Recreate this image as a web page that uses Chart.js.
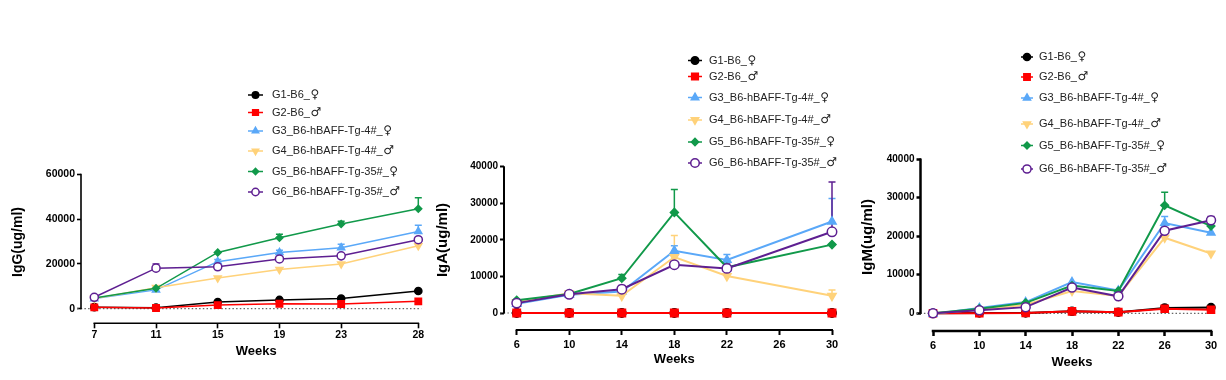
<!DOCTYPE html>
<html><head><meta charset="utf-8">
<script src="https://cdn.jsdelivr.net/npm/chart.js@4.4.1/dist/chart.umd.min.js"></script>
<style>
html,body{margin:0;padding:0;background:#fff;width:1226px;height:380px;overflow:hidden}
.p{position:absolute;top:0;height:380px}
canvas{display:block}
</style></head><body>
<div class="p" style="left:0;width:430px"><canvas id="c1" width="430" height="380"></canvas></div>
<div class="p" style="left:430px;width:430px"><canvas id="c2" width="430" height="380"></canvas></div>
<div class="p" style="left:860px;width:366px"><canvas id="c3" width="366" height="380"></canvas></div>
<script>
// ---------- data ----------
const groupLabels = ['G1-B6_♀','G2-B6_♂','G3_B6-hBAFF-Tg-4#_♀','G4_B6-hBAFF-Tg-4#_♂','G5_B6-hBAFF-Tg-35#_♀','G6_B6-hBAFF-Tg-35#_♂'];

// IgG
const iggWeeks = [7, 11, 15, 19, 23, 28];
const iggTicksX = [7, 11, 15, 19, 23, 28];
const iggTicksY = [0, 20000, 40000, 60000];
const iggG1 = [700, 450, 3000, 3900, 4500, 7900];
const iggG2 = [600, 300, 1600, 2200, 2100, 3300];
const iggG3 = [4500, 8400, 21000, 25100, 27200, 34500];
const iggG4 = [4600, 9400, 13700, 17500, 20000, 28100];
const iggG5 = [4800, 9100, 25100, 31700, 37800, 44600];
const iggG6 = [5100, 18100, 18700, 22200, 23600, 30800];
const iggErrG3 = [0, 0, 1000, 1000, 1600, 2800];
const iggErrG4 = [0, 0, 0, 0, 0, 800];
const iggErrG5 = [0, 0, 0, 1500, 1200, 4900];
const iggErrG6 = [0, 1800, 0, 0, 0, 0];

// IgA
const igaWeeks = [6, 10, 14, 18, 22, 30];
const igaTicksX = [6, 10, 14, 18, 22, 26, 30];
const igaTicksY = [0, 10000, 20000, 30000, 40000];
const igaG1 = [0, 0, 0, 0, 0, 0];
const igaG2 = [0, 0, 0, 0, 0, 0];
const igaG3 = [2500, 5000, 5900, 17000, 14500, 25000];
const igaG4 = [3000, 5400, 4700, 15300, 10100, 4700];
const igaG5 = [3500, 5200, 9500, 27500, 12500, 18700];
const igaG6 = [2700, 5100, 6500, 13200, 12200, 22200];
const igaErrG3 = [0, 0, 0, 1400, 1500, 6300];
const igaErrG4 = [0, 0, 0, 5900, 0, 1600];
const igaErrG5 = [0, 0, 1000, 6300, 0, 0];
const igaErrG6 = [0, 0, 1000, 0, 1500, 13600];

// IgM
const igmWeeks = [6, 10, 14, 18, 22, 26, 30];
const igmTicksX = [6, 10, 14, 18, 22, 26, 30];
const igmTicksY = [0, 10000, 20000, 30000, 40000];
const igmG1 = [0, 100, 100, 500, 300, 1400, 1500];
const igmG2 = [0, 0, 100, 500, 300, 1200, 900];
const igmG3 = [-150, 1400, 2900, 8100, 5900, 23400, 20900];
const igmG4 = [0, 900, 2200, 5800, 4500, 19600, 15500];
const igmG5 = [0, 1200, 2700, 7200, 5800, 28000, 22600];
const igmG6 = [0, 800, 1600, 6700, 4400, 21400, 24100];
const igmErrG3 = [0, 0, 0, 0, 0, 1700, 0];
const igmErrG5 = [0, 0, 0, 0, 0, 3400, 0];
const igmErrG6 = [0, 0, 0, 0, 0, 0, 1000];

// ---------- styles ----------
const colors = ['#000000', '#ff0000', '#5aa8f8', '#ffd27a', '#11994a', '#5e1f91'];
const pStyles = ['circle', 'rect', 'triangle', 'triangle', 'rectRot', 'circle'];
const pRot = [0, 0, 0, 180, 0, 0];
const pRad = [4, 5, 4.5, 4.5, 3.8, 4.5];
const FONT = "'Liberation Sans', Arial, 'DejaVu Sans', sans-serif";
const SYMFONT = "'DejaVu Sans', sans-serif";

const gpPlugin = {
  id: 'gp',
  beforeDatasetsDraw(chart, args, o) {
    const ctx = chart.ctx, xs = chart.scales.x, ys = chart.scales.y;
    const y0 = ys.getPixelForValue(0);
    ctx.save();
    ctx.strokeStyle = '#666'; ctx.lineWidth = 1.2; ctx.setLineDash([1.5, 2.2]);
    ctx.beginPath(); ctx.moveTo(chart.chartArea.left - 4, y0);
    ctx.lineTo(xs.getPixelForValue(o.xLast) + 3, y0); ctx.stroke();
    ctx.setLineDash([]);
    chart.data.datasets.forEach((ds, i) => {
      const err = o.errors[i]; if (!err) return;
      ds.data.forEach((p, j) => {
        if (!err[j]) return;
        const px = xs.getPixelForValue(p.x), py = ys.getPixelForValue(p.y), pt = ys.getPixelForValue(p.y + err[j]);
        ctx.strokeStyle = ds.borderColor; ctx.lineWidth = 1.5;
        ctx.beginPath(); ctx.moveTo(px, py); ctx.lineTo(px, pt);
        ctx.moveTo(px - 3.5, pt); ctx.lineTo(px + 3.5, pt); ctx.stroke();
      });
    });
    ctx.restore();
  },
  afterDraw(chart, args, o) {
    const ctx = chart.ctx, xs = chart.scales.x, ys = chart.scales.y, ca = chart.chartArea;
    ctx.save();
    ctx.strokeStyle = '#000'; ctx.lineWidth = o.axisW;
    ctx.beginPath(); ctx.moveTo(ca.left, ys.getPixelForValue(o.yMax) - 0.5); ctx.lineTo(ca.left, ys.getPixelForValue(0) + 0.5); ctx.stroke();
    const xa = xs.getPixelForValue(o.xFirst), xb = xs.getPixelForValue(o.xLast);
    ctx.beginPath(); ctx.moveTo(xa - o.axisW / 2, ca.bottom); ctx.lineTo(xb + o.axisW / 2, ca.bottom); ctx.stroke();
    ctx.fillStyle = '#000'; ctx.textAlign = 'center'; ctx.textBaseline = 'middle';
    ctx.font = 'bold ' + o.weeksSize + 'px ' + FONT;
    ctx.fillText('Weeks', (xa + xb) / 2, o.weeksY);
    ctx.save();
    ctx.translate(o.yTitleX - o.left, o.yTitleY); ctx.rotate(-Math.PI / 2);
    ctx.font = 'bold ' + o.yTitleSize + 'px ' + FONT;
    ctx.fillText(o.yTitle, 0, 0);
    ctx.restore();
    // legend
    const lx = o.legMx - o.left, tx = o.legTx - o.left;
    ctx.textAlign = 'left';
    chart.data.datasets.forEach((ds, i) => {
      const ly = o.legYs[i];
      ctx.strokeStyle = ds.borderColor; ctx.lineWidth = 1.5;
      ctx.beginPath(); ctx.moveTo(lx - o.legHalf, ly); ctx.lineTo(lx + o.legHalf, ly); ctx.stroke();
      ctx.fillStyle = ds.pointBackgroundColor; ctx.strokeStyle = ds.pointBorderColor; ctx.lineWidth = 1.5;
      Chart.helpers.drawPoint(ctx, {pointStyle: ds.pointStyle, radius: ds.pointRadius * 0.9, rotation: ds.pointRotation, borderWidth: 1.5}, lx, ly);
      const label = ds.label, main = label.slice(0, -1), sym = label.slice(-1);
      ctx.fillStyle = '#222';
      ctx.font = '11px ' + FONT;
      ctx.fillText(main, tx, ly);
      const w = ctx.measureText(main).width;
      ctx.font = '12px ' + SYMFONT;
      ctx.fillText(sym, tx + w + 0.5, ly);
    });
    ctx.restore();
  }
};

function makePanel(id, cfg) {
  const perX = (cfg.xLastPx - cfg.xFirstPx) / (cfg.xLast - cfg.xFirst);
  const xMin = cfg.xFirst - (cfg.xFirstPx - cfg.yAxisX) / perX;
  const perY = (cfg.yZeroPx - cfg.yTopPx) / cfg.yMax;
  const yMin = -(cfg.xAxisY - cfg.yZeroPx) / perY;
  const datasets = cfg.series.map((vals, i) => ({
    label: groupLabels[i],
    data: cfg.weeks.map((w, j) => ({x: w, y: vals[j]})),
    borderColor: colors[i], backgroundColor: colors[i],
    pointBackgroundColor: i === 5 ? '#ffffff' : colors[i], pointBorderColor: colors[i],
    pointStyle: pStyles[i], pointRotation: pRot[i], pointRadius: pRad[i] * cfg.ptScale,
    pointBorderWidth: 1.5, borderWidth: cfg.lineW, clip: false, order: 6 - i
  }));
  new Chart(document.getElementById(id), {
    type: 'line',
    data: {datasets},
    plugins: [gpPlugin],
    options: {
      responsive: false, animation: false, devicePixelRatio: 1,
      layout: {padding: {top: cfg.yTopPx, left: 0, right: cfg.left + cfg.width - cfg.xLastPx, bottom: 0}},
      plugins: {
        legend: {display: false}, tooltip: {enabled: false},
        gp: {errors: cfg.errors, xFirst: cfg.xFirst, xLast: cfg.xLast, yMax: cfg.yMax, axisW: cfg.axisW,
             weeksY: cfg.weeksY, weeksSize: cfg.weeksSize,
             yTitle: cfg.yTitle, yTitleX: cfg.yTitleX, yTitleY: cfg.yTitleY, yTitleSize: cfg.yTitleSize,
             left: cfg.left, legMx: cfg.legMx, legTx: cfg.legTx, legYs: cfg.legYs, legHalf: cfg.legHalf}
      },
      scales: {
        x: {
          type: 'linear', min: xMin, max: cfg.xLast,
          afterBuildTicks: s => { s.ticks = cfg.ticksX.map(v => ({value: v})); },
          afterFit: s => { s.height = 380 - cfg.xAxisY; },
          border: {display: false},
          grid: {display: true, drawOnChartArea: false, drawTicks: true, tickLength: 5, tickWidth: cfg.axisW, tickColor: '#000'},
          ticks: {color: '#000', font: {family: FONT, size: cfg.xTickSize, weight: 'bold'}, padding: cfg.xPad, maxRotation: 0, autoSkip: false, callback: v => String(v)}
        },
        y: {
          type: 'linear', min: yMin, max: cfg.yMax,
          afterBuildTicks: s => { s.ticks = cfg.ticksY.map(v => ({value: v})); },
          afterFit: s => { s.width = cfg.yAxisX - cfg.left; },
          border: {display: false},
          grid: {display: true, drawOnChartArea: false, drawTicks: true, tickLength: 4, tickWidth: cfg.axisW, tickColor: '#000'},
          ticks: {color: '#000', font: {family: FONT, size: cfg.yTickSize, weight: 'bold'}, padding: 2, autoSkip: false, callback: v => String(v)}
        }
      }
    }
  });
}

makePanel('c1', {
  left: 0, width: 430, weeks: iggWeeks, ticksX: iggTicksX, ticksY: iggTicksY,
  series: [iggG1, iggG2, iggG3, iggG4, iggG5, iggG6],
  errors: [null, null, iggErrG3, iggErrG4, iggErrG5, iggErrG6],
  yAxisX: 81, xFirstPx: 94.3, xLastPx: 418.3, xFirst: 7, xLast: 28,
  yTopPx: 174.3, yZeroPx: 308.7, xAxisY: 323.3, yMax: 60000,
  lineW: 1.5, ptScale: 0.9, axisW: 1.6, yTickSize: 10.5, xTickSize: 10.5, xPad: 1,
  weeksY: 351, weeksSize: 13,
  yTitle: 'IgG(ug/ml)', yTitleX: 18, yTitleY: 242, yTitleSize: 14,
  legMx: 255.5, legTx: 272, legYs: [95, 112.5, 131, 151, 171.5, 192], legHalf: 7.5
});
makePanel('c2', {
  left: 430, width: 430, weeks: igaWeeks, ticksX: igaTicksX, ticksY: igaTicksY,
  series: [igaG1, igaG2, igaG3, igaG4, igaG5, igaG6],
  errors: [null, null, igaErrG3, igaErrG4, igaErrG5, igaErrG6],
  yAxisX: 504, xFirstPx: 516.7, xLastPx: 832, xFirst: 6, xLast: 30,
  yTopPx: 166.7, yZeroPx: 313, xAxisY: 330, yMax: 40000,
  lineW: 2, ptScale: 1.05, axisW: 2, yTickSize: 10, xTickSize: 11, xPad: 3,
  weeksY: 359, weeksSize: 13,
  yTitle: 'IgA(ug/ml)', yTitleX: 443, yTitleY: 240, yTitleSize: 15,
  legMx: 695, legTx: 709, legYs: [60.5, 76.5, 97.5, 120, 142, 163], legHalf: 7
});
makePanel('c3', {
  left: 860, width: 366, weeks: igmWeeks, ticksX: igmTicksX, ticksY: igmTicksY,
  series: [igmG1, igmG2, igmG3, igmG4, igmG5, igmG6],
  errors: [null, null, igmErrG3, null, igmErrG5, igmErrG6],
  yAxisX: 920.5, xFirstPx: 933, xLastPx: 1211, xFirst: 6, xLast: 30,
  yTopPx: 159, yZeroPx: 313.3, xAxisY: 331, yMax: 40000,
  lineW: 2, ptScale: 1.0, axisW: 2.5, yTickSize: 10, xTickSize: 11, xPad: 3.5,
  weeksY: 362.5, weeksSize: 13,
  yTitle: 'IgM(ug/ml)', yTitleX: 868, yTitleY: 237, yTitleSize: 15,
  legMx: 1027, legTx: 1039, legYs: [57, 77, 98, 124, 145.5, 169], legHalf: 6
});
</script>
</body></html>
